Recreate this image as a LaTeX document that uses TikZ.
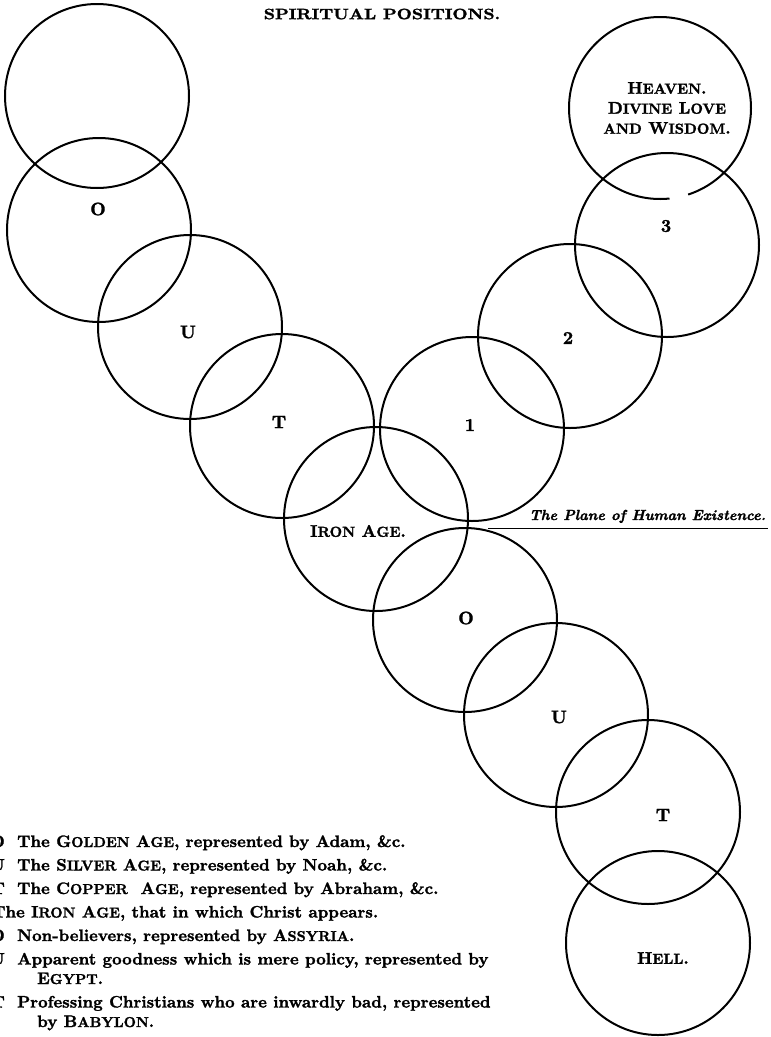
\documentclass[tikz,border=0pt]{standalone}
\usepackage{fontspec}
\usepackage{graphicx}
\newfontfamily\heavy{lmroman10-bold.otf}[FakeBold=1.6,ItalicFont=lmroman10-bolditalic.otf,ItalicFeatures={FakeBold=1.6}]
\newcommand\skp[1]{\scalebox{0.86}{#1}}
\begin{document}
\begin{tikzpicture}[x=1pt,y=-1pt,
  ring/.style={circle,draw,line width=2pt,minimum size=184pt,inner sep=0pt},
  lab/.style={inner sep=0pt,font=\fontsize{16.9}{20}\selectfont\heavy},
  letter/.style={inner sep=0pt,font=\fontsize{18}{20}\selectfont\heavy},
  leg/.style={anchor=base west,inner sep=0pt,font=\fontsize{16.6}{19}\selectfont\heavy},
  legk/.style={anchor=base east,inner sep=0pt,font=\fontsize{16.6}{19}\selectfont\heavy}]
\useasboundingbox (0,0) rectangle (771,1037);
\clip (0,0) rectangle (771,1037);
% title
\node[inner sep=0pt,font=\fontsize{15}{18}\selectfont\heavy] (title) at (382,14)
  {\scalebox{1.17}[1]{SPIRITUAL POSITIONS.}};
% left arm
\node[ring] (top) at (97,96) {};
\node[ring] (o1) at (99,230) {};
\node[ring] (u1) at (190,327) {};
\node[ring] (t1) at (282,426) {};
\node[ring] (iron) at (376,519) {};
% right arm
\node[ring] (one) at (472,429) {};
\node[ring] (two) at (570,336) {};
\node[ring] (three) at (667,245) {};
\coordinate (heaven) at (660,108);
\draw[line width=2pt] plot[domain=84:432,samples=180,smooth] ({660+91*cos(\x)},{108+91*sin(\x)});
% lower arm
\node[ring] (o2) at (465,620) {};
\node[ring] (u2) at (556,715) {};
\node[ring] (t2) at (648,812) {};
\node[ring] (hell) at (658,943) {};
% labels
\node[letter] (lo1) at (98,209) {O};
\node[letter] (lu1) at (188,332) {U};
\node[letter] (lt1) at (279,422) {T};
\node[lab] (liron) at (358,531) {I\skp{RON} A\skp{GE}.};
\node[letter] (l1) at (470,425) {1};
\node[letter] (l2) at (568,338) {2};
\node[letter] (l3) at (666,226) {3};
\node[lab,align=center] (lheaven) at (667,108) {H\skp{EAVEN}.\\D\skp{IVINE} L\skp{OVE}\\\skp{AND} W\skp{ISDOM}.};
\node[letter] (lo2) at (466,618) {O};
\node[letter] (lu2) at (559,717) {U};
\node[letter] (lt2) at (663,815) {T};
\node[lab] (lhell) at (663,958) {H\skp{ELL}.};
% plane of human existence
\coordinate (planeL) at (488,528);
\coordinate (planeR) at (768,528);
\draw[line width=1pt] (planeL) -- (planeR);
\node[anchor=base west,inner sep=0pt,font=\fontsize{14.6}{18}\selectfont\heavy\itshape] (plane) at (529,520) {The Plane of Human Existence.};
% legend
\node[legk] (k1) at (5,847) {O};
\node[leg] (e1) at (17,847) {The G\skp{OLDEN} A\skp{GE}, represented by Adam, \&c.};
\node[legk] (k2) at (5,870.5) {U};
\node[leg] (e2) at (17,870.5) {The S\skp{ILVER} A\skp{GE}, represented by Noah, \&c.};
\node[legk] (k3) at (5,894) {T};
\node[leg] (e3) at (17,894) {The C\skp{OPPER}\ \ A\skp{GE}, represented by Abraham, \&c.};
\node[leg] (e4) at (-8,917.5) {The I\skp{RON} A\skp{GE}, that in which Christ appears.};
\node[legk] (k5) at (5,941) {O};
\node[leg] (e5) at (17,941) {Non-believers, represented by A\skp{SSYRIA}.};
\node[legk] (k6) at (5,964.5) {U};
\node[leg] (e6) at (17,964.5) {Apparent goodness which is mere policy, represented by};
\node[leg] (e6b) at (37,984) {E\skp{GYPT}.};
\node[legk] (k7) at (5,1007.5) {T};
\node[leg] (e7) at (17,1007.5) {Professing Christians who are inwardly bad, represented};
\node[leg] (e7b) at (37,1027) {by B\skp{ABYLON}.};
\end{tikzpicture}
\end{document}
